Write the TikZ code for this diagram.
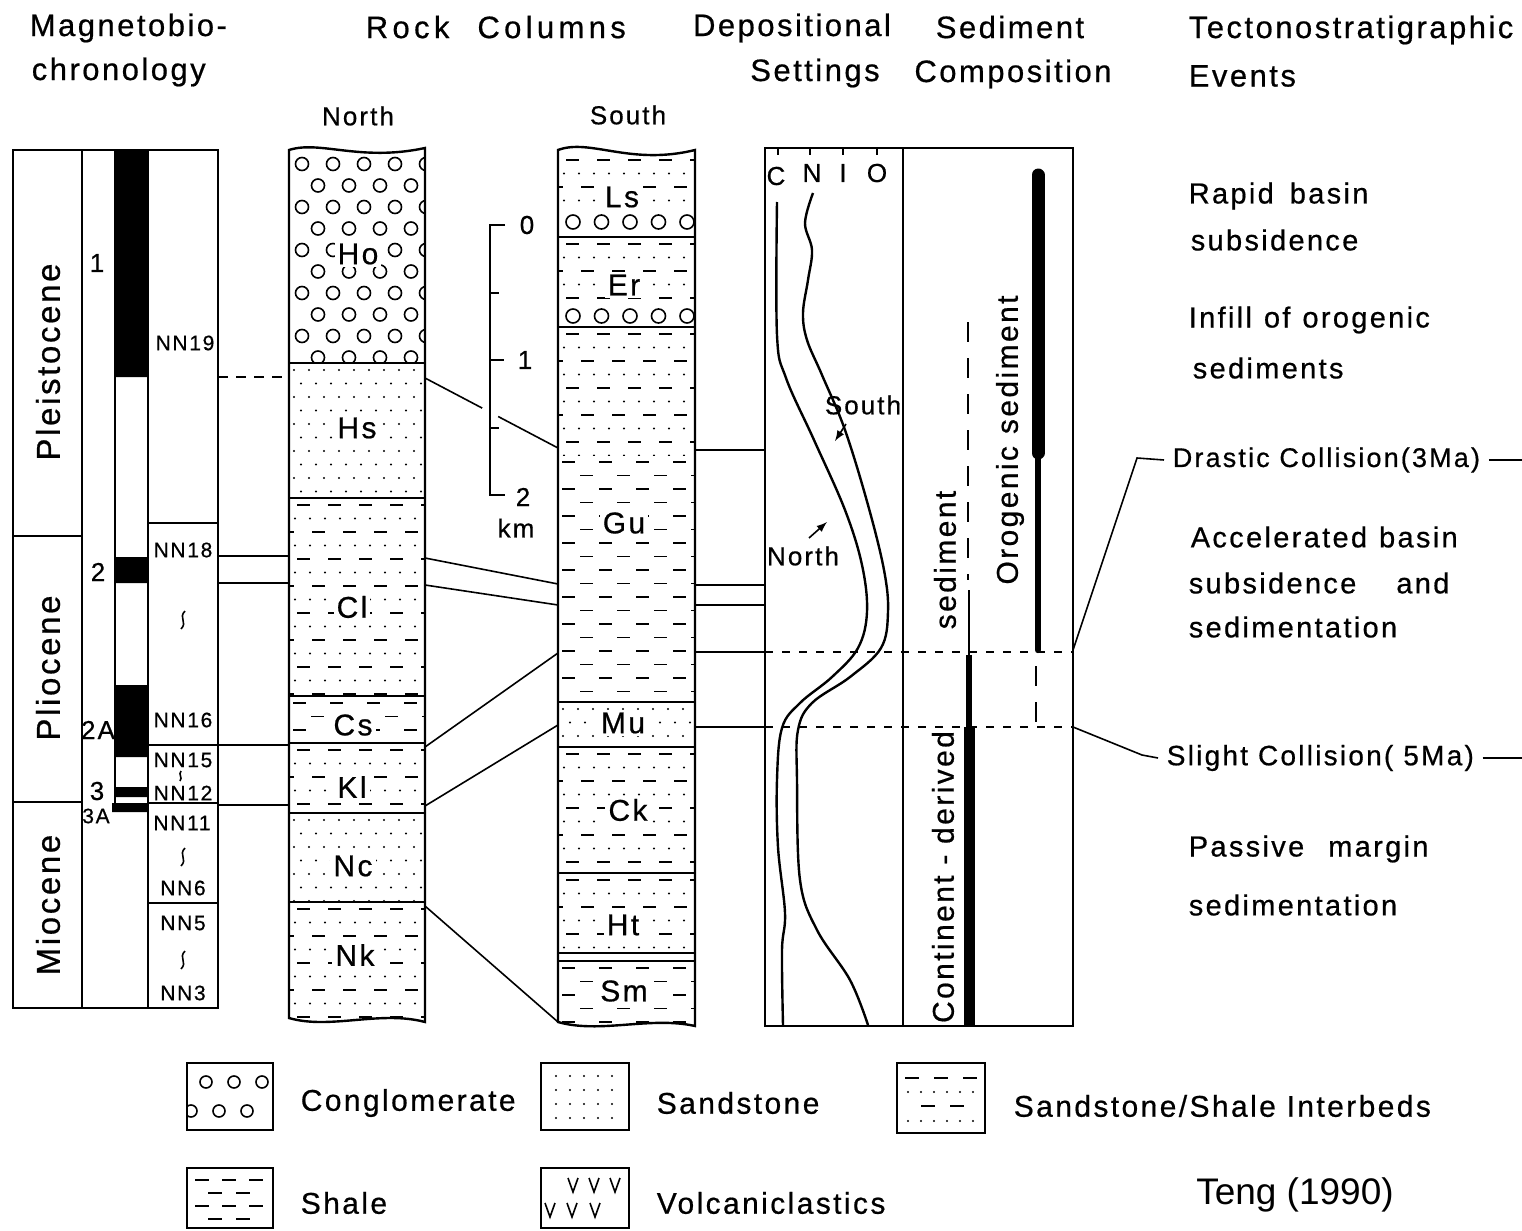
\documentclass[tikz,border=0pt]{standalone}
\usepackage{fontspec}
\setmainfont{Liberation Sans}[LetterSpace=8,FakeBold=0.6]
\newfontfamily\refsf{Liberation Sans}
\usetikzlibrary{calc}

% lithology fills (pixel coordinates: x1,y1,x2,y2)
\newcommand\sandfill[4]{\begin{scope}\clip(#1,#2)rectangle(#3,#4);
  \pgfmathtruncatemacro\nr{(#4-#2)/13.5}\pgfmathtruncatemacro\nc{(#3-#1)/15}
  \foreach \r in {0,...,\nr}\foreach \c in {0,...,\nc}
    \fill ({#1+5+15*\c+7*mod(\r,2)},{#2+7+13.5*\r}) circle (1.1);
  \end{scope}}
\newcommand\shalefill[4]{\begin{scope}\clip(#1,#2)rectangle(#3,#4);
  \pgfmathtruncatemacro\nr{(#4-#2)/13.5}\pgfmathtruncatemacro\nc{(#3-#1)/37}
  \foreach \r in {0,...,\nr}\foreach \c in {-1,...,\nc}
    \draw[dsh] ({#1+4+37*\c+18*mod(\r,2)},{#2+7+13.5*\r})--++(13,0);
  \end{scope}}
\newcommand\interfill[4]{\begin{scope}\clip(#1,#2)rectangle(#3,#4);
  \pgfmathtruncatemacro\nr{(#4-#2)/13.5}\pgfmathtruncatemacro\nc{(#3-#1)/15}
  \foreach \r in {0,...,\nr}{\pgfmathsetmacro\yy{#2+7+13.5*\r}
    \ifodd\r\relax \foreach \c in {0,...,\nc} \fill ({#1+6+15*\c},\yy) circle (1.1);
    \else \foreach \c in {-1,...,\nc} \draw[dsh] ({#1+8+31*\c+15*mod(\r/2,2)},\yy)--++(13,0);\fi}
  \end{scope}}
\newcommand\conglofill[4]{\begin{scope}\clip(#1,#2)rectangle(#3,#4);
  \pgfmathtruncatemacro\nr{(#4-#2)/21.5}\pgfmathtruncatemacro\nc{(#3-#1)/31}
  \foreach \r in {0,...,\nr}\foreach \c in {0,...,\nc}
    \draw ({#1+13+31*\c+16*mod(\r,2)},{#2+12+21.5*\r}) circle (6.5);
  \end{scope}}
\newcommand\pebblerow[2]{\foreach \c in {0,...,4}\draw ({#1+15+28.5*\c},#2) circle (7);}
\newcommand\wig[2]{\draw (#1+2,#2-9) .. controls (#1-5,#2-2) and (#1+5,#2+2) .. (#1-2,#2+9);}

\begin{document}
\begin{tikzpicture}[x=0.5pt,y=-0.5pt,>=latex,line width=0.8pt,
  bd/.style={line width=1.2pt},
  dsh/.style={line width=0.8pt},
  hd/.style={font=\fontsize{15.5}{18}\selectfont,inner sep=0pt},
  ev/.style={font=\fontsize{14.5}{16}\selectfont,anchor=west,inner sep=0pt},
  lbl/.style={fill=white,inner sep=1.5pt,font=\fontsize{15}{15}\selectfont},
  nn/.style={font=\fontsize{10.5}{11}\selectfont,inner sep=0pt},
  sm/.style={font=\fontsize{13}{14}\selectfont,inner sep=0pt},
  ep/.style={font=\fontsize{16.5}{18}\selectfont,rotate=90,inner sep=0pt},
  vt/.style={font=\fontsize{15}{16}\selectfont,rotate=90,inner sep=0pt},
  lg/.style={font=\fontsize{15}{16}\selectfont,anchor=west,inner sep=0pt}]
\useasboundingbox (0,0) rectangle (1522,1231);

% headings
\node[hd,anchor=west] (hmag) at (29,28) {Magnetobio-};
\node[hd,anchor=west] (hchr) at (31,72) {chronology};
\node[hd,anchor=west] (hrock) at (365,27) {\addfontfeatures{LetterSpace=14}Rock\hspace{14pt}Columns};
\node[hd] (hdep) at (792,28) {Depositional};
\node[hd] (hset) at (815,73) {Settings};
\node[hd] (hsed) at (1010,27) {Sediment};
\node[hd] (hcom) at (1013,74) {Composition};
\node[hd,anchor=west] (htec) at (1188,30) {Tectonostratigraphic};
\node[hd,anchor=west] (hev) at (1188,76) {Events};

% magnetobiochronology
\fill (115,150) rectangle (148,377) (115,557) rectangle (148,583) (115,685) rectangle (148,757)
      (115,787) rectangle (148,797) (112,803) rectangle (148,812);
\draw[bd] (13,150) rectangle (218,1008);
\draw[bd] (82,150)--(82,1008) (148,150)--(148,1008) (115,150)--(115,812);
\draw[bd] (13,536)--(82,536) (13,802)--(82,802);
\draw[bd] (148,523)--(218,523) (148,745)--(218,745) (148,803)--(218,803) (148,903)--(218,903);
\node[ep] (pleis) at (48,362) {Pleistocene};
\node[ep] (plio) at (48,668) {Pliocene};
\node[ep] (mio) at (48,905) {Miocene};
\node[sm] (c1) at (97,263) {1};
\node[sm] (c2) at (98,572) {2};
\node[sm] (c2a) at (98,730) {2A};
\node[sm] (c3) at (97,791) {3};
\node[nn] (c3a) at (96,816) {3A};
\node[nn] (nn19) at (185,343) {NN19};
\node[nn] (nn18) at (183,550) {NN18};
\node[nn] (nn16) at (183,720) {NN16};
\node[nn] (nn15) at (183,760) {NN15};
\node[nn] (nn12) at (183,793) {NN12};
\node[nn] (nn11) at (182,823) {NN11};
\node[nn] (nn6) at (183,888) {NN6};
\node[nn] (nn5) at (183,923) {NN5};
\node[nn] (nn3) at (183,993) {NN3};
\wig{183}{620} \wig{183}{857} \wig{183}{960}
\draw (181,771) .. controls (178,775) and (183,777) .. (180,781);

% north column
\node[sm] (north) at (358,116) {North};
\conglofill{289}{152}{425}{363}
\sandfill{289}{363}{425}{498}
\interfill{289}{498}{425}{696}
\shalefill{289}{696}{425}{743}
\interfill{289}{743}{425}{813}
\sandfill{289}{813}{425}{902}
\interfill{289}{902}{425}{1022}
\draw (289,363)--(425,363) (289,498)--(425,498) (289,696)--(425,696)
      (289,743)--(425,743) (289,813)--(425,813) (289,902)--(425,902);
\node[lbl] (ho) at (358,254) {Ho};
\node[lbl] (hs) at (357,428) {Hs};
\node[lbl] (cl) at (352,607) {Cl};
\node[lbl] (cs) at (353,725) {Cs};
\node[lbl] (kl) at (352,787) {Kl};
\node[lbl] (nc) at (353,866) {Nc};
\node[lbl] (nk) at (355,955) {Nk};
\draw[bd] (289,150) .. controls (320,140) and (360,162) .. (425,148) -- (425,1022)
   .. controls (380,1010) and (330,1030) .. (289,1018) -- cycle;

% south column
\node[sm] (south) at (628,115) {South};
\interfill{558}{153}{695}{208}
\pebblerow{558}{222}
\interfill{558}{237}{695}{302}
\pebblerow{558}{316}
\interfill{558}{327}{695}{455}
\shalefill{558}{455}{695}{702}
\sandfill{558}{702}{695}{747}
\interfill{558}{747}{695}{873}
\interfill{558}{873}{695}{953}
\shalefill{558}{961}{695}{1026}
\draw (558,237)--(695,237) (558,327)--(695,327) (558,702)--(695,702) (558,747)--(695,747)
      (558,873)--(695,873) (558,953)--(695,953) (558,961)--(695,961);
\node[lbl] (ls) at (622,197) {Ls};
\node[lbl] (er) at (624,285) {Er};
\node[lbl] (gu) at (624,523) {Gu};
\node[lbl] (mu) at (623,723) {Mu};
\node[lbl] (ck) at (628,810) {Ck};
\node[lbl] (ht) at (623,925) {Ht};
\node[lbl] (sm) at (624,991) {Sm};
\draw[bd] (558,150) .. controls (590,138) and (630,166) .. (695,150) -- (695,1026)
   .. controls (650,1016) and (600,1034) .. (558,1022) -- cycle;

% scale bar
\draw[bd] (505,225)--(490,225)--(490,495)--(505,495);
\draw[bd] (490,360)--(504,360);
\draw (490,293)--(499,293) (490,428)--(499,428);
\node[sm] (k0) at (527,225) {0};
\node[sm] (k1) at (525,360) {1};
\node[sm] (k2) at (523,497) {2};
\node[sm] (km) at (516,528) {km};

% correlation
\coordinate (aA) at (218,377); \coordinate (nA) at (289,377);
\coordinate (aB) at (218,556); \coordinate (nB) at (289,556);
\coordinate (aC) at (218,583); \coordinate (nC) at (289,583);
\coordinate (aD) at (218,745); \coordinate (nD) at (289,745);
\coordinate (aE) at (218,805); \coordinate (nE) at (289,805);
\draw[dash pattern=on 5pt off 4pt] (aA)--(nA);
\draw (aB)--(nB) (aC)--(nC) (aD)--(nD) (aE)--(nE);
\coordinate (nR1) at (425,378); \coordinate (sL1) at (558,448);
\coordinate (nR2) at (425,558); \coordinate (sL2) at (558,584);
\coordinate (nR3) at (425,585); \coordinate (sL3) at (558,605);
\coordinate (nR4) at (425,747); \coordinate (sL4) at (558,653);
\coordinate (nR5) at (425,806); \coordinate (sL5) at (558,725);
\coordinate (nR6) at (425,906); \coordinate (sL6) at (558,1022);
\draw (nR1)--($(nR1)!.43!(sL1)$) ($(nR1)!.55!(sL1)$)--(sL1);
\draw (nR2)--(sL2) (nR3)--(sL3) (nR4)--(sL4) (nR5)--(sL5) (nR6)--(sL6);
\coordinate (sR1) at (695,450); \coordinate (dL1) at (765,450);
\coordinate (sR2) at (695,585); \coordinate (dL2) at (765,585);
\coordinate (sR3) at (695,605); \coordinate (dL3) at (765,605);
\coordinate (sR4) at (695,652); \coordinate (dL4) at (765,652);
\coordinate (sR5) at (695,727); \coordinate (dL5) at (765,727);
\draw (sR1)--(dL1) (sR2)--(dL2) (sR3)--(dL3) (sR4)--(dL4) (sR5)--(dL5);

% depositional settings and sediment composition
\draw[bd] (765,148) rectangle (1073,1026);
\draw (903,148)--(903,1026);
\foreach \x in {778,810,843,877} \draw (\x,148)--(\x,155);
\node[sm] (cC) at (776,176) {C};
\node[sm] (cN) at (812,173) {N};
\node[sm] (cI) at (843,173) {I};
\node[sm] (cO) at (877,173) {O};
\draw[bd] plot[smooth,tension=.6] coordinates {(777,202) (777,335) (786,378) (814,440)
  (845,510) (862,565) (867,612) (858,648) (832,677) (800,703) (782,728) (777,780)
  (778,847) (785,913) (782,950) (783,1025)};
\draw[bd] plot[smooth,tension=.6] coordinates {(813,193) (805,223) (812,250) (808,280)
  (803,313) (807,340) (822,375) (845,430) (868,505) (884,570) (888,612) (881,648)
  (850,677) (812,703) (798,730) (797,780) (800,880) (817,930) (850,980) (868,1025)};
\node[sm] (lsouth) at (863,405) {South};
\draw[->] (846,424)--(835,441);
\node[sm] (lnorth) at (803,556) {North};
\draw[->] (809,538)--(827,522);
\draw[dash pattern=on 4pt off 4.5pt,line width=0.6pt] (dL4)--(1073,652) (dL5)--(1073,727);
\draw[line width=6.5pt,line cap=round] (1038,175)--(1038,453);
\draw[line width=3.2pt,line cap=round] (1038,453)--(1038,650);
\draw[line width=1.4pt,dash pattern=on 10pt off 8pt] (1036,666)--(1036,725);
\draw[line width=1.4pt,dash pattern=on 10pt off 8pt] (968,322)--(968,580);
\draw[line width=0.8pt] (969,590)--(969,655);
\draw[line width=3pt] (969,655)--(969,727);
\draw[line width=5.5pt] (969,727)--(969,1026);
\node[vt] (oro) at (1010,440) {Orogenic\hspace{6pt}sediment};
\node[vt] (sedc) at (945,560) {sediment};
\node[vt] (cont) at (943,877) {Continent - derived};

% tectonostratigraphic events
\node[ev] (ev1) at (1188,196) {Rapid\hspace{8pt}basin};
\node[ev] (ev1b) at (1190,240) {subsidence};
\node[ev] (ev2) at (1188,320) {Infill\hspace{6pt}of\hspace{6pt}orogenic};
\node[ev] (ev2b) at (1192,368) {sediments};
\node[ev] (ev3) at (1190,537) {Accelerated\hspace{6pt}basin};
\node[ev] (ev3b) at (1188,583) {subsidence\hspace{20pt}and};
\node[ev] (ev3c) at (1188,627) {sedimentation};
\node[ev] (ev4) at (1188,849) {Passive\hspace{12pt}margin};
\node[ev] (ev4b) at (1188,905) {sedimentation};
\node[ev,inner sep=4pt,font=\fontsize{13.5}{16}\selectfont] (drastic) at (1164,460) {Drastic Collision(3Ma)};
\node[ev,inner sep=4pt,font=\fontsize{14}{16}\selectfont] (slight) at (1158,758) {Slight Collision( 5Ma)};
\coordinate (dR4) at (1073,650); \coordinate (dR5) at (1073,727);
\draw (dR4)--(1137,458)--(drastic.west);
\draw (drastic.east)--++(45,0);
\draw (dR5)--(1142,755)--(slight.west);
\draw (slight.east)--++(50,0);

% legend
\draw[bd] (187,1063) rectangle (273,1130);
\begin{scope}\clip (187,1063) rectangle (273,1130);
\foreach \x in {206,234,262} \draw (\x,1082) circle (6);
\foreach \x in {191,219,247} \draw (\x,1111) circle (6);
\end{scope}
\node[lg] (lcong) at (300,1103) {Conglomerate};
\draw[bd] (541,1063) rectangle (629,1130);
\foreach \y in {1076,1090,1104,1118} \foreach \x in {556,570,584,598,612}
  \fill (\x,\y) circle (1.1);
\node[lg] (lsand) at (656,1103) {Sandstone};
\draw[bd] (897,1063) rectangle (985,1133);
\foreach \x in {905,934,963} \draw[dsh] (\x,1078)--++(14,0);
\foreach \x in {921,950} \draw[dsh] (\x,1106)--++(14,0);
\foreach \y in {1092,1121} \foreach \x in {908,921,934,947,960,973} \fill (\x,\y) circle (1.1);
\node[lg] (linter) at (1013,1106) {Sandstone/Shale Interbeds};
\draw[bd] (187,1168) rectangle (273,1228);
\foreach \y in {1180,1206} \foreach \x in {195,222,249} \draw[dsh] (\x,\y)--++(14,0);
\foreach \y in {1193,1219} \foreach \x in {208,236} \draw[dsh] (\x,\y)--++(14,0);
\node[lg] (lshale) at (300,1203) {Shale};
\draw[bd] (541,1168) rectangle (629,1228);
\foreach \x/\y in {573/1185,594/1185,615/1185,550/1210,572/1210,595/1210}
  \draw (\x-5,\y-7)--(\x,\y+7)--(\x+5,\y-7);
\node[lg] (lvolc) at (656,1203) {Volcaniclastics};
\node[font=\refsf\fontsize{18.5}{20}\selectfont] (teng) at (1295,1195) {Teng (1990)};
\end{tikzpicture}
\end{document}
